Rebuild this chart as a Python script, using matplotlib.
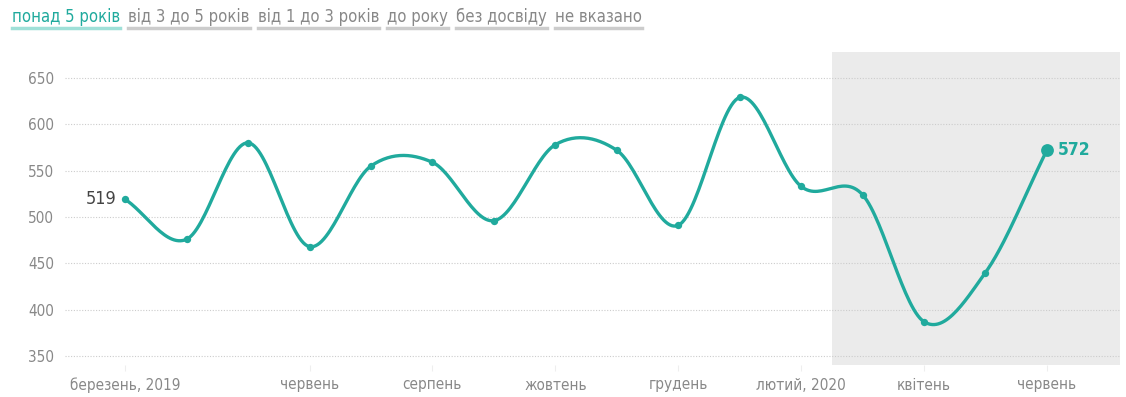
import matplotlib
matplotlib.use("Agg")
import matplotlib.pyplot as plt
import numpy as np

plt.rcParams['font.family'] = ['DejaVu Sans']
plt.rcParams['font.stretch'] = 'condensed'

# monthly values, March 2019 .. June 2020
values = [519, 476, 580, 468, 555, 559, 496, 578, 572, 491, 629, 533, 524, 387, 440, 572]
tick_pos = [0, 3, 5, 7, 9, 11, 13, 15]
tick_labels = ['березень, 2019', 'червень', 'серпень', 'жовтень', 'грудень',
               'лютий, 2020', 'квітень', 'червень']
y_ticks = [350, 400, 450, 500, 550, 600, 650]
tabs = ['понад 5 років', 'від 3 до 5 років', 'від 1 до 3 років', 'до року',
        'без досвіду', 'не вказано']
shade_from = 11.5

teal = '#20aa9d'
grey = '#888888'


def catmull_rom(y, n=30):
    # smooth curve through every point
    y = np.asarray(y, float)
    p = np.concatenate([[2 * y[0] - y[1]], y, [2 * y[-1] - y[-2]]])
    xs, ys = [], []
    for i in range(len(y) - 1):
        p0, p1, p2, p3 = p[i], p[i + 1], p[i + 2], p[i + 3]
        t = np.linspace(0, 1, n, endpoint=False)
        m1 = (p2 - p0) / 2
        m2 = (p3 - p1) / 2
        h00 = 2 * t**3 - 3 * t**2 + 1
        h10 = t**3 - 2 * t**2 + t
        h01 = -2 * t**3 + 3 * t**2
        h11 = t**3 - t**2
        xs.append(i + t)
        ys.append(h00 * p1 + h10 * m1 + h01 * p2 + h11 * m2)
    xs.append([len(y) - 1])
    ys.append([y[-1]])
    return np.concatenate(xs), np.concatenate(ys)


fig = plt.figure(figsize=(11.26, 3.97), dpi=100)
ax = fig.add_axes([65 / 1126, 1 - 365 / 397, (1120 - 65) / 1126, (365 - 52) / 397])

x = np.arange(len(values))
ax.axvspan(shade_from, 20, color='#ebebeb', zorder=0, lw=0)

for yv in y_ticks:
    ax.axhline(yv, color='#cccccc', lw=0.8, ls=(0, (1, 1.5)), zorder=1)

cx, cy = catmull_rom(values)
ax.plot(cx, cy, color=teal, lw=2.4, zorder=3, solid_capstyle='round')
ax.scatter(x[:-1], values[:-1], s=28, color=teal, zorder=4, lw=0)
ax.scatter(x[-1:], values[-1:], s=85, color=teal, zorder=4, lw=0)

ax.annotate(str(values[0]), (x[0], values[0]), xytext=(-6, 0), textcoords='offset points',
            ha='right', va='center', fontsize=13, color='#444444')
ax.annotate(str(values[-1]), (x[-1], values[-1]), xytext=(8, 0), textcoords='offset points',
            ha='left', va='center', fontsize=12.5, color=teal, fontweight='bold')

ax.set_xlim(-0.98, 16.19)
ax.set_ylim(340.3, 678)
ax.set_yticks(y_ticks)
ax.set_yticklabels([str(v) for v in y_ticks], fontsize=11, color=grey)
ax.set_xticks(tick_pos)
ax.set_xticklabels(tick_labels, fontsize=11, color=grey)
ax.tick_params(axis='y', length=0, pad=8)
ax.tick_params(axis='x', length=4, color='#eeeeee', pad=5)
for s in ax.spines.values():
    s.set_visible(False)

# tab labels on top with underline
fig.canvas.draw()
r = fig.canvas.get_renderer()
tx = 12
for i, lab in enumerate(tabs):
    col = teal if i == 0 else grey
    ul = '#9fe0d8' if i == 0 else '#cccccc'
    t = fig.text(tx / 1126, 1 - 17 / 397, lab, fontsize=12, color=col, va='center', ha='left')
    bb = t.get_window_extent(r)
    yline = 1 - 28 / 397
    fig.add_artist(plt.Line2D([bb.x0 / 1126, bb.x1 / 1126], [yline, yline],
                              color=ul, lw=2.5, transform=fig.transFigure))
    tx = bb.x1 + 8

fig.savefig('out.png', dpi=100)
